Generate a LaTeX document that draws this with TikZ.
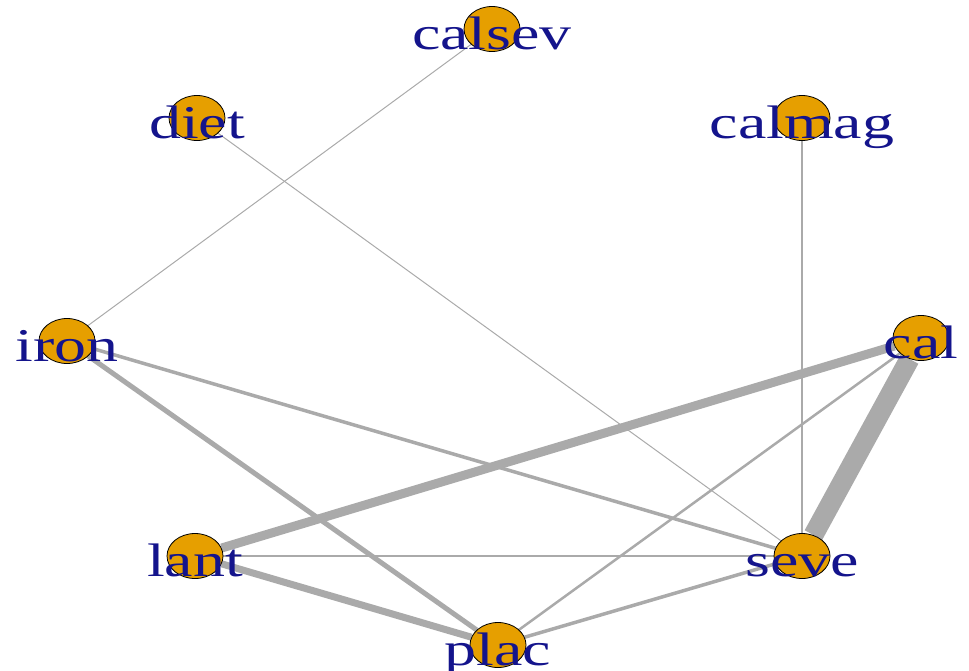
\documentclass[tikz,border=0pt]{standalone}
\usepackage{fontspec}
\setmainfont{Liberation Serif}
\usetikzlibrary{shapes.geometric,backgrounds}
\definecolor{vorange}{RGB}{230,159,0}
\definecolor{vblue}{RGB}{20,20,140}
\definecolor{linkgray}{RGB}{170,170,170}
\tikzset{vertex/.style={ellipse, draw=black, line width=0.8pt, fill=vorange, minimum width=56pt, minimum height=45pt, inner sep=0pt}}
\tikzset{lbl/.style={text=vblue, font=\fontsize{47}{47}\selectfont, text height=33pt, text depth=0pt, yshift=-3.5pt, inner sep=0pt}}
\tikzset{link/.style={draw=linkgray, line width=#1pt}}
\newcommand{\wide}[1]{\scalebox{1.36}[1]{#1}}

\begin{document}
\begin{tikzpicture}[x=1pt,y=-1pt]
\useasboundingbox (0,0) rectangle (969,670);
\node[vertex, label={[lbl]center:\wide{calsev}}] (calsev) at (492,29) {};
\node[vertex, label={[lbl]center:\wide{diet}}] (diet) at (197,118) {};
\node[vertex, label={[lbl]center:\wide{calmag}}] (calmag) at (802,118) {};
\node[vertex, label={[lbl]center:\wide{iron}}] (iron) at (67,341) {};
\node[vertex, label={[lbl]center:\wide{cal}}] (cal) at (921,338) {};
\node[vertex, label={[lbl]center:\wide{lant}}] (lant) at (195,556) {};
\node[vertex, label={[lbl]center:\wide{seve}}] (seve) at (802,556) {};
\node[vertex, label={[lbl]center:\wide{plac}}] (plac) at (498,645) {};
\begin{scope}[on background layer]
\draw[link=1] (calsev) -- (iron);
\draw[link=1] (diet) -- (seve);
\draw[link=2] (calmag) -- (seve);
\draw[link=3.5] (iron) -- (seve);
\draw[link=5] (iron) -- (plac);
\draw[link=9] (cal) -- (lant);
\draw[link=20] (cal) -- (seve);
\draw[link=2.5] (cal) -- (plac);
\draw[link=1.5] (lant) -- (seve);
\draw[link=7] (lant) -- (plac);
\draw[link=3.5] (plac) -- (seve);
\end{scope}
\end{tikzpicture}
\end{document}
